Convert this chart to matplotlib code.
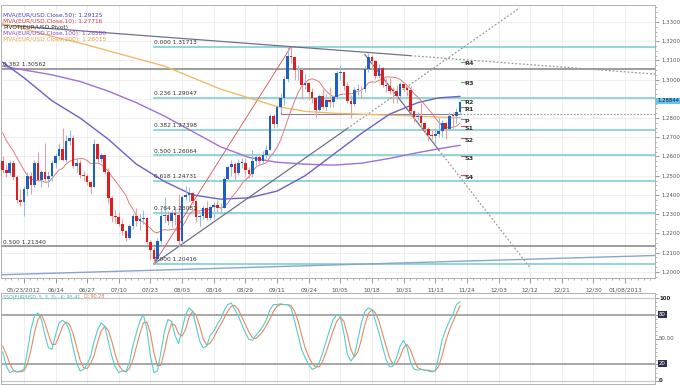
import matplotlib
matplotlib.use("Agg")
import matplotlib.pyplot as plt
import numpy as np
import pandas as pd
from matplotlib.ticker import MultipleLocator, FixedLocator

# ---------------- data ----------------
x_labels = ["05/23/2012", "06/14", "06/27", "07/10", "07/23", "08/03", "08/16", "08/29",
            "09/11", "09/24", "10/05", "10/18", "10/31", "11/13", "11/24", "12/03",
            "12/12", "12/21", "12/30", "01/08/2013"]

first_bar = -6           # bar index of the first candle (index 0 = first x label)
first_open = 1.2578
closes_prior = [1.2930, 1.2915, 1.2835, 1.2770, 1.2715, 1.2670, 1.2780, 1.2775, 1.2660, 1.2580]

closes = [1.2530, 1.2515, 1.2565, 1.2495, 1.2375, 1.2365, 1.2433, 1.2498, 1.2450, 1.2564,
          1.2478, 1.2518, 1.2482, 1.2500, 1.2566, 1.2603, 1.2637, 1.2580, 1.2681, 1.2698,
          1.2552, 1.2568, 1.2506, 1.2497, 1.2467, 1.2439, 1.2665, 1.2585, 1.2608, 1.2520,
          1.2385, 1.2289, 1.2287, 1.2248, 1.2214, 1.2178, 1.2241, 1.2292, 1.2265, 1.2276,
          1.2279, 1.2156, 1.2116, 1.2065, 1.2162, 1.2290, 1.2297, 1.2262, 1.2306, 1.2294,
          1.2160, 1.2388, 1.2402, 1.2408, 1.2368, 1.2286, 1.2290, 1.2334, 1.2281, 1.2336,
          1.2350, 1.2331, 1.2333, 1.2485, 1.2544, 1.2560, 1.2514, 1.2566, 1.2566, 1.2532,
          1.2510, 1.2577, 1.2598, 1.2575, 1.2610, 1.2634, 1.2813, 1.2767, 1.2859, 1.2906,
          1.3003, 1.3125, 1.3116, 1.3048, 1.3048, 1.2971, 1.2982, 1.2935, 1.2904, 1.2843,
          1.2914, 1.2858, 1.2895, 1.2883, 1.2909, 1.3036, 1.3040, 1.2966, 1.2890, 1.2873,
          1.2945, 1.2950, 1.2949, 1.3056, 1.3119, 1.3095, 1.3020, 1.3062, 1.2974, 1.2967,
          1.2943, 1.2941, 1.2915, 1.2975, 1.2958, 1.2948, 1.2835, 1.2804, 1.2811, 1.2772,
          1.2741, 1.2711, 1.2708, 1.2715, 1.2732, 1.2773, 1.2742, 1.2813, 1.2811, 1.2834,
          1.2884]
highs = [1.2600, 1.2560, 1.2580, 1.2580, 1.2505, 1.2430, 1.2445, 1.2520, 1.2520, 1.2580,
         1.2625, 1.2530, 1.2670, 1.2525, 1.2580, 1.2620, 1.2670, 1.2747, 1.2710, 1.2740,
         1.2710, 1.2590, 1.2580, 1.2525, 1.2515, 1.2475, 1.2692, 1.2670, 1.2620, 1.2610,
         1.2540, 1.2395, 1.2320, 1.2310, 1.2275, 1.2220, 1.2250, 1.2300, 1.2330, 1.2300,
         1.2320, 1.2285, 1.2165, 1.2130, 1.2175, 1.2325, 1.2390, 1.2315, 1.2320, 1.2345,
         1.2405, 1.2400, 1.2445, 1.2440, 1.2415, 1.2375, 1.2300, 1.2350, 1.2370, 1.2345,
         1.2365, 1.2375, 1.2360, 1.2495, 1.2550, 1.2580, 1.2570, 1.2585, 1.2590, 1.2590,
         1.2545, 1.2635, 1.2610, 1.2610, 1.2630, 1.2660, 1.2820, 1.2820, 1.2865, 1.2930,
         1.3020, 1.3170, 1.3172, 1.3120, 1.3075, 1.3065, 1.3030, 1.2990, 1.2955, 1.2910,
         1.2925, 1.2950, 1.2925, 1.2960, 1.2920, 1.3045, 1.3075, 1.3035, 1.2985, 1.2920,
         1.2960, 1.2975, 1.2965, 1.3070, 1.3140, 1.3130, 1.3100, 1.3080, 1.3065, 1.3010,
         1.3010, 1.2960, 1.2970, 1.2990, 1.2990, 1.2965, 1.2965, 1.2840, 1.2830, 1.2880,
         1.2780, 1.2755, 1.2740, 1.2750, 1.2800, 1.2790, 1.2780, 1.2830, 1.2830, 1.2850,
         1.2890]
lows = [1.2514, 1.2495, 1.2505, 1.2480, 1.2360, 1.2340, 1.2288, 1.2395, 1.2405, 1.2440,
        1.2470, 1.2440, 1.2470, 1.2440, 1.2475, 1.2540, 1.2580, 1.2575, 1.2570, 1.2660,
        1.2540, 1.2520, 1.2490, 1.2470, 1.2450, 1.2405, 1.2440, 1.2570, 1.2570, 1.2510,
        1.2360, 1.2260, 1.2255, 1.2240, 1.2190, 1.2160, 1.2170, 1.2225, 1.2240, 1.2220,
        1.2250, 1.2145, 1.2065, 1.2042, 1.2050, 1.2145, 1.2255, 1.2245, 1.2235, 1.2245,
        1.2135, 1.2150, 1.2375, 1.2370, 1.2355, 1.2260, 1.2240, 1.2275, 1.2270, 1.2270,
        1.2275, 1.2310, 1.2300, 1.2330, 1.2470, 1.2500, 1.2480, 1.2505, 1.2540, 1.2500,
        1.2490, 1.2495, 1.2555, 1.2560, 1.2560, 1.2590, 1.2635, 1.2750, 1.2755, 1.2830,
        1.2870, 1.2990, 1.3085, 1.3000, 1.3000, 1.2900, 1.2950, 1.2895, 1.2880, 1.2805,
        1.2835, 1.2845, 1.2840, 1.2860, 1.2860, 1.2900, 1.3000, 1.2945, 1.2880, 1.2800,
        1.2865, 1.2920, 1.2905, 1.2935, 1.3040, 1.3050, 1.3005, 1.3010, 1.2960, 1.2935,
        1.2925, 1.2880, 1.2880, 1.2900, 1.2935, 1.2915, 1.2825, 1.2780, 1.2790, 1.2750,
        1.2715, 1.2680, 1.2690, 1.2661, 1.2700, 1.2700, 1.2690, 1.2740, 1.2750, 1.2775,
        1.2820]

# moving averages read at sample bars
ma_bars = [-6, 0, 8, 16, 24, 32, 40, 48, 56, 64, 72, 80, 88, 96, 104, 112, 118, 124]
ma50 = [1.3090, 1.3010, 1.2890, 1.2800, 1.2690, 1.2560, 1.2470, 1.2400, 1.2378, 1.2385,
        1.2420, 1.2500, 1.2610, 1.2720, 1.2820, 1.2880, 1.2905, 1.29125]
ma100 = [1.3070, 1.3050, 1.3025, 1.2990, 1.2940, 1.2880, 1.2810, 1.2730, 1.2650, 1.2595,
         1.2570, 1.2560, 1.2555, 1.2565, 1.2590, 1.2620, 1.2640, 1.26580]
ma200 = [1.3290, 1.3265, 1.3225, 1.3190, 1.3150, 1.3110, 1.3070, 1.3010, 1.2950, 1.2905,
         1.2860, 1.2835, 1.2825, 1.2820, 1.2815, 1.2810, 1.2805, 1.28015]

# stochastic %K / %D per bar
stoch_k = [35, 18, 10, 12, 11, 12, 14, 35, 62, 78, 82, 74, 55, 40, 38, 55, 70, 73, 70, 60,
           40, 22, 12, 14, 20, 30, 48, 62, 70, 66, 48, 30, 17, 10, 12, 11, 22, 42, 58, 72,
           80, 62, 30, 10, 12, 35, 60, 74, 72, 55, 45, 62, 80, 88, 84, 66, 48, 40, 42, 55,
           60, 68, 75, 85, 92, 94, 86, 78, 68, 58, 50, 49, 55, 60, 66, 74, 86, 92, 92, 93,
           92, 92, 88, 72, 55, 38, 28, 20, 14, 16, 22, 34, 48, 62, 74, 80, 78, 58, 32, 24,
           30, 50, 70, 84, 88, 86, 72, 58, 42, 26, 17, 18, 28, 42, 49, 40, 22, 14, 13, 14,
           13, 12, 11, 12, 30, 50, 62, 72, 80, 92, 95.41]
stoch_d = [42, 32, 21, 13, 11, 11, 12, 20, 37, 58, 74, 80, 70, 56, 44, 44, 54, 66, 71, 68,
           57, 41, 25, 16, 15, 21, 31, 47, 60, 66, 61, 48, 32, 19, 13, 11, 15, 25, 41, 57,
           70, 71, 57, 34, 18, 19, 36, 56, 69, 67, 57, 54, 62, 77, 84, 79, 66, 51, 43, 46,
           52, 61, 68, 76, 84, 90, 91, 86, 77, 68, 59, 52, 51, 55, 60, 67, 75, 84, 90, 92,
           92, 92, 91, 84, 72, 55, 40, 29, 21, 17, 17, 24, 35, 48, 61, 72, 77, 72, 56, 38,
           29, 35, 50, 68, 81, 86, 82, 72, 57, 42, 28, 20, 21, 29, 40, 44, 37, 25, 16, 14,
           13, 13, 12, 12, 18, 31, 48, 61, 71, 81, 90.28]

fib_levels = [0.000, 0.236, 0.382, 0.500, 0.618, 0.764, 1.000]
fib_prices = [1.31713, 1.29047, 1.27398, 1.26064, 1.24731, 1.23081, 1.20416]
big_fib_levels = [0.382, 0.500]
big_fib_prices = [1.30562, 1.21340]

pivot_names = ["R4", "R3", "R2", "R1", "P", "S1", "S2", "S3", "S4"]
pivot_prices = [1.3088, 1.2984, 1.2886, 1.2849, 1.2787, 1.2751, 1.2689, 1.2595, 1.2497]

last_price = 1.28844
price_ticks = [1.20, 1.21, 1.22, 1.23, 1.24, 1.25, 1.26, 1.27, 1.28, 1.29, 1.30, 1.31, 1.32, 1.33]

# ---------------- derived ----------------
n = len(closes)
bars = np.arange(first_bar, first_bar + n)
opens = np.array([first_open] + closes[:-1])
closes_a = np.array(closes)
ma10 = pd.Series(closes_prior + closes).rolling(10).mean().values[len(closes_prior):]

# ---------------- figure ----------------
W, H = 680, 385
fig = plt.figure(figsize=(W / 100, H / 100), dpi=100)
fig.patch.set_facecolor("white")

def fx(px):
    return px / W

def fy(py):
    return 1 - py / H

ax = fig.add_axes([fx(1), fy(278), fx(655) - fx(1), fy(5) - fy(278)])
ax2 = fig.add_axes([fx(1), fy(384), fx(655) - fx(1), fy(293) - fy(384)])

xmin, xmax = -6.5, 179.5
for a in (ax, ax2):
    a.set_xlim(xmin, xmax)
    a.set_facecolor("white")
    for s in a.spines.values():
        s.set_color("#b0b0b0")
        s.set_linewidth(0.7)

ax.set_ylim(1.1968, 1.3388)
ax2.set_ylim(-3.7, 106)

major_x = [9 * k for k in range(len(x_labels))]
grid_c = "#ececec"
for a in (ax, ax2):
    for xv in major_x:
        a.axvline(xv, color=grid_c, lw=0.6, zorder=0)
for p in price_ticks:
    ax.axhline(p, color=grid_c, lw=0.6, zorder=0)

# Fibonacci (cyan) levels
fib_anchor = 37
for lvl, pr in zip(fib_levels, fib_prices):
    ax.plot([fib_anchor, xmax], [pr, pr], color="#7fd0d0", lw=1.2, zorder=1)
    ax.text(fib_anchor, pr + 0.0008, f"{lvl:.3f} {pr:.5f}", fontsize=4.2,
            color="#333333", ha="left", va="bottom", zorder=6)
for lvl, pr in zip(big_fib_levels, big_fib_prices):
    ax.plot([xmin, xmax], [pr, pr], color="#8c8c8c", lw=1.2, zorder=1)
    ax.text(xmin + 0.5, pr + 0.0008, f"{lvl:.3f} {pr:.5f}", fontsize=4.2,
            color="#333333", ha="left", va="bottom", zorder=6)

# long bottom support line
ax.plot([xmin, xmax], [1.1985, 1.2085], color="#8aa4cc", lw=1.0, zorder=1)

# trend lines
tl_c = "#6f6f92"
top_x0, top_y0, top_x1, top_y1 = xmin, 1.3285, 76, 1.31713
slope_top = (top_y1 - top_y0) / (top_x1 - top_x0)
ax.plot([top_x0, 110], [top_y0, top_y0 + slope_top * (110 - top_x0)], color=tl_c, lw=0.9, zorder=2)
ax.plot([110, xmax], [top_y0 + slope_top * (110 - top_x0), top_y0 + slope_top * (xmax - top_x0)],
        color="#9a9a9a", lw=0.9, ls=(0, (1.5, 1.5)), zorder=2)

up_slope = 0.00128
ax.plot([37, 92], [1.20416, 1.20416 + up_slope * 55], color=tl_c, lw=0.9, zorder=2)
ax.plot([92, 141], [1.20416 + up_slope * 55, 1.20416 + up_slope * 104], color="#9a9a9a",
        lw=0.9, ls=(0, (1.5, 1.5)), zorder=2)

dn_slope = -0.00236
ax.plot([97, 118], [1.3130, 1.3130 + dn_slope * 21], color=tl_c, lw=0.9, zorder=2)
ax.plot([118, 144], [1.3130 + dn_slope * 21, 1.3130 + dn_slope * 47], color="#9a9a9a",
        lw=0.9, ls=(0, (1.5, 1.5)), zorder=2)

# fib trend (red)
ax.plot([37, 76], [1.20416, 1.31713], color="#d85050", lw=0.6, zorder=2)

# horizontal level line
ax.plot([73, 73, 124], [1.2862, 1.2822, 1.2822], color="#8080a8", lw=0.8, zorder=2)
ax.plot([124, xmax], [1.2822, 1.2822], color="#9a9a9a", lw=0.8, ls=(0, (1.5, 1.5)), zorder=2)

# moving averages
ax.plot(ma_bars, ma200, color="#f2b96a", lw=1.0, zorder=3)
ax.plot(ma_bars, ma100, color="#a070d8", lw=1.0, zorder=3)
ax.plot(ma_bars, ma50, color="#6a62c8", lw=1.0, zorder=3)
ax.plot(bars, ma10, color="#e07a7a", lw=0.7, zorder=3)

# candles
up = closes_a >= opens
wick_c = np.where(up, "#9dbbe0", "#eaa0a0")
body_c = np.where(up, "#1f5fc4", "#dd1f1f")
ax.vlines(bars, lows, highs, colors=wick_c, lw=0.8, zorder=4)
body_lo = np.minimum(opens, closes_a)
body_h = np.maximum(np.abs(closes_a - opens), 0.0003)
ax.bar(bars, body_h, bottom=body_lo, width=0.75, color=body_c, linewidth=0, zorder=5)

# pivot markers
for nm, pr in zip(pivot_names, pivot_prices):
    c = "#55b055" if nm.startswith("R") else ("#d05050" if nm.startswith("S") else "#888888")
    ax.plot([124.2, 125.6], [pr + 0.0006, pr + 0.0006], color=c, lw=0.8, zorder=6)
    ax.text(125.2, pr - 0.0004, nm, fontsize=4.6, fontweight="bold", color="#333333",
            ha="left", va="center", zorder=7)

# axes ticks (the 1.2900 label sits under the current-price tag)
ax.yaxis.tick_right()
ax.yaxis.set_major_locator(FixedLocator(price_ticks))
ax.yaxis.set_minor_locator(MultipleLocator(0.0025))
ax.set_yticklabels(["" if abs(p - 1.29) < 1e-9 else f"{p:.4f}" for p in price_ticks])
ax.tick_params(axis="y", which="major", labelsize=3.9, labelcolor="#555555", length=3,
               width=0.6, color="#888888", pad=1.5)
ax.tick_params(axis="y", which="minor", length=1.5, width=0.5, color="#999999")
ax.set_xticks(major_x)
ax.set_xticklabels(x_labels)
ax.xaxis.set_minor_locator(MultipleLocator(1.8))
ax.tick_params(axis="x", which="major", labelsize=4.2, labelcolor="#555555", length=3.5,
               width=0.6, color="#888888", pad=3)
ax.tick_params(axis="x", which="minor", length=1.5, width=0.5, color="#999999")
ax.tick_params(top=False, left=False)

# current price tag
fig.text(fx(657), fy(101), f"{last_price:.5f}", fontsize=3.9, color="#1a1a1a",
         ha="left", va="center",
         bbox=dict(boxstyle="square,pad=0.15", fc="#62c4f2", ec="none"))

# legend texts
leg = [("MVA(EUR/USD.Close,50): 1.29125", "#4242b0"),
       ("MVA(EUR/USD.Close,10): 1.27716", "#d83a3a"),
       ("PIVOT(EUR/USD,Pivot)", "#333333"),
       ("MVA(EUR/USD.Close,100): 1.26580", "#8a48c8"),
       ("MVA(EUR/USD.Close,200): 1.28015", "#eca040")]
for i, (t, c) in enumerate(leg):
    fig.text(fx(3), fy(15 + 6 * i), t, fontsize=4.2, color=c, ha="left", va="center")

# ---------------- stochastic panel ----------------
for lvl, c, lw in [(100, "#c8c8c8", 0.8), (80, "#9a9a9a", 1.2), (20, "#9a9a9a", 1.2), (0, "#c8c8c8", 0.8)]:
    ax2.axhline(lvl, color=c, lw=lw, zorder=1)
ax2.plot(bars, stoch_d, color="#e08a64", lw=0.8, zorder=3)
ax2.plot(bars, stoch_k, color="#55cccc", lw=0.8, zorder=4)
ax2.set_xticks(major_x)
ax2.set_xticklabels([])
ax2.tick_params(axis="x", length=0)
ax2.yaxis.tick_right()
ax2.set_yticks([100, 80, 50, 20, 0])
ax2.set_yticklabels([])
ax2.yaxis.set_minor_locator(MultipleLocator(5))
ax2.tick_params(axis="y", which="major", length=3, width=0.6, color="#888888")
ax2.tick_params(axis="y", which="minor", length=1.5, width=0.5, color="#999999")

def ypx2(v):
    return 380 - v * 0.82

for v, txt, boxed in [(100, "100", False), (80, "80", True), (50, "50.00", False),
                      (20, "20", True), (0, "0", False)]:
    if boxed:
        fig.text(fx(659), fy(ypx2(v)), txt, fontsize=3.9, color="white", ha="left", va="center",
                 bbox=dict(boxstyle="square,pad=0.15", fc="#2e3050", ec="none"))
    else:
        fig.text(fx(659), fy(ypx2(v)), txt, fontsize=3.9,
                 color="#222222" if txt != "50.00" else "#555555",
                 fontweight="bold" if txt != "50.00" else "normal", ha="left", va="center")

k_txt = fig.text(fx(3), fy(297), "SSO(EUR/USD, 5, 3, 3) - K: 95.41", fontsize=3.4,
                 color="#3cb8b8", ha="left", va="center")
renderer = fig.canvas.get_renderer()
bb = k_txt.get_window_extent(renderer)
fig.text(bb.x1 / W + fx(4), fy(297), "D: 90.28", fontsize=3.4, color="#e0704a",
         ha="left", va="center")

fig.savefig("out.png", dpi=100, facecolor="white")
